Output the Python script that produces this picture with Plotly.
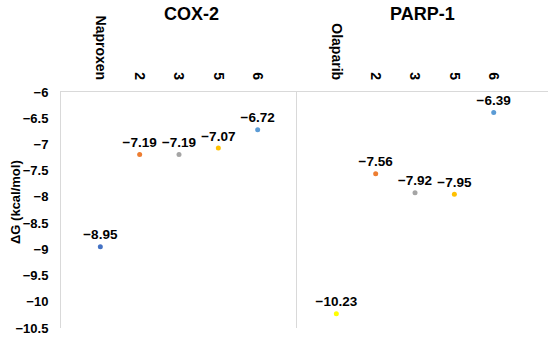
import plotly.graph_objects as go

cox_labels = ["Naproxen", "2", "3", "5", "6"]
cox_values = [-8.95, -7.19, -7.19, -7.07, -6.72]
parp_labels = ["Olaparib", "2", "3", "5", "6"]
parp_values = [-10.23, -7.56, -7.92, -7.95, -6.39]
cox_colors = ["#4472C4", "#ED7D31", "#A5A5A5", "#FFC000", "#5B9BD5"]
parp_colors = ["#FFFF00", "#ED7D31", "#A5A5A5", "#FFC000", "#5B9BD5"]
y_ticks = [-6, -6.5, -7, -7.5, -8, -8.5, -9, -9.5, -10, -10.5]

FONT = "Liberation Sans, Arial, sans-serif"

def fmt(v):
    return f"{v:.2f}".replace("-", "\u2212")

def ytick(v):
    return f"{v:g}".replace("-", "\u2212")

pos = [1, 2, 3, 4, 5]

fig = go.Figure()
fig.add_trace(go.Scatter(
    x=pos, y=cox_values, mode="markers+text",
    marker=dict(size=5, color=cox_colors),
    text=[fmt(v) for v in cox_values], textposition="top center",
    textfont=dict(family=FONT, size=13.5, color="#000", weight="bold"),
    xaxis="x", yaxis="y", showlegend=False, cliponaxis=False,
))
fig.add_trace(go.Scatter(
    x=pos, y=parp_values, mode="markers+text",
    marker=dict(size=5, color=parp_colors),
    text=[fmt(v) for v in parp_values], textposition="top center",
    textfont=dict(family=FONT, size=13.5, color="#000", weight="bold"),
    xaxis="x2", yaxis="y2", showlegend=False, cliponaxis=False,
))

split = 236 / 487
axis_line = "#D9D9D9"
ytickfont = dict(family=FONT, size=13, color="#000", weight="bold")
xtickfont = dict(family=FONT, size=14, color="#000", weight="bold")

fig.update_layout(
    width=550, height=341,
    margin=dict(l=61, r=2, t=92, b=13),
    paper_bgcolor="white", plot_bgcolor="white",
    font=dict(family=FONT),
    xaxis=dict(domain=[0, split], range=[0, 6], side="top", anchor="y",
               tickvals=pos, ticktext=cox_labels, tickangle=90,
               showgrid=False, zeroline=False, showline=True, linecolor=axis_line,
               ticks="", tickfont=xtickfont, ticklabelstandoff=6),
    xaxis2=dict(domain=[split, 1], range=[0, 6.38], side="top", anchor="y2",
                tickvals=pos, ticktext=parp_labels, tickangle=90,
                showgrid=False, zeroline=False, showline=True, linecolor=axis_line,
                ticks="", tickfont=xtickfont, ticklabelstandoff=6),
    yaxis=dict(range=[-10.5, -6], anchor="x", tickvals=y_ticks,
               ticktext=[ytick(v) for v in y_ticks],
               showgrid=False, zeroline=False, showline=True, linecolor=axis_line,
               ticks="", tickfont=ytickfont, ticklabelstandoff=9),
    yaxis2=dict(range=[-10.5, -6], anchor="x2", matches="y",
                showticklabels=False, showgrid=False, zeroline=False,
                showline=True, linecolor=axis_line, ticks=""),
    annotations=[
        dict(text="COX-2", x=(191 - 61) / 487, y=(328 - 14) / 236, xref="paper", yref="paper",
             xanchor="center", yanchor="middle", showarrow=False,
             font=dict(family=FONT, size=18, color="#000", weight="bold")),
        dict(text="PARP-1", x=(422 - 61) / 487, y=(328 - 14) / 236, xref="paper", yref="paper",
             xanchor="center", yanchor="middle", showarrow=False,
             font=dict(family=FONT, size=18, color="#000", weight="bold")),
        dict(text="\u0394G (kcal/mol)", x=(15 - 61) / 487, y=(328 - 202) / 236,
             xref="paper", yref="paper", xanchor="center", yanchor="middle",
             textangle=-90, showarrow=False,
             font=dict(family=FONT, size=13, color="#000", weight="bold")),
    ],
)

fig.write_html("out.html", config={"displayModeBar": False},
               post_script="document.body.style.margin='0';")
